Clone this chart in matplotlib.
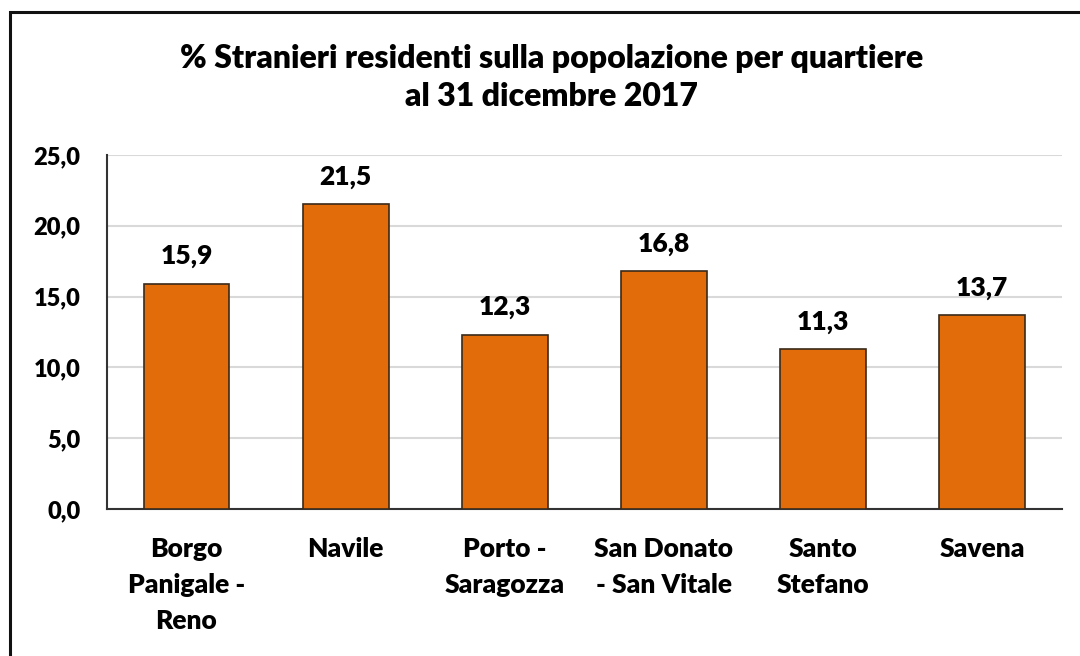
import matplotlib.pyplot as plt
from matplotlib.patches import Rectangle

# Quartieri di Bologna e quota di stranieri residenti (%)
quartieri = ["Borgo\nPanigale -\nReno", "Navile", "Porto -\nSaragozza",
             "San Donato\n- San Vitale", "Santo\nStefano", "Savena"]
percentuali = [15.9, 21.5, 12.3, 16.8, 11.3, 13.7]
yticks = [0, 5, 10, 15, 20, 25]

plt.rcParams['font.family'] = ['Lato', 'DejaVu Sans']
plt.rcParams['font.weight'] = 'bold'

fig = plt.figure(figsize=(10.8, 6.56), dpi=100)
ax = fig.add_axes([0.099, 0.224, 0.884, 0.54])

x = range(len(quartieri))
bars = ax.bar(x, percentuali, width=0.54, color='#E36C0A',
              edgecolor='#3a2a1a', linewidth=1.2, zorder=3)

for xi, v in zip(x, percentuali):
    ax.annotate(f"{v:.1f}".replace('.', ','), (xi, v), xytext=(0, 11),
                textcoords='offset points', ha='center', va='bottom',
                fontsize=19, fontweight='heavy')

ax.set_xlim(-0.5, len(quartieri) - 0.5)
ax.set_ylim(0, 25)
ax.set_yticks(yticks)
ax.set_yticklabels([f"{t:.1f}".replace('.', ',') for t in yticks],
                   fontsize=17, fontweight='heavy')
ax.set_xticks(list(x))
ax.set_xticklabels(quartieri, fontsize=19, fontweight='heavy', linespacing=1.6,
                   va='top')
ax.tick_params(axis='x', length=0, pad=20)
ax.tick_params(axis='y', length=0, pad=19)

ax.grid(axis='y', color='#d9d9d9', linewidth=1.5, zorder=0)
for s in ['top', 'right']:
    ax.spines[s].set_visible(False)
ax.spines['left'].set_color('#333333')
ax.spines['bottom'].set_color('#333333')
ax.spines['left'].set_linewidth(1.5)
ax.spines['bottom'].set_linewidth(1.5)

fig.text(0.511, 0.882, "% Stranieri residenti sulla popolazione per quartiere\nal 31 dicembre 2017",
         ha='center', va='center', fontsize=23, fontweight='heavy', linespacing=1.38)

# cornice esterna
fig.patches.append(Rectangle((10 / 1080, -0.05), 1.1, 1 - 12 / 656 + 0.05,
                             transform=fig.transFigure, fill=False,
                             edgecolor='#111111', linewidth=2.2))

fig.savefig("out.png", dpi=100)
